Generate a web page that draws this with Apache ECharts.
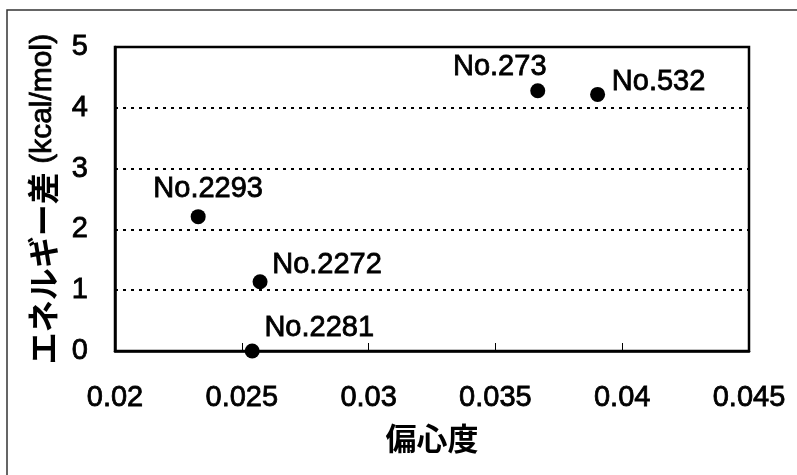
<!DOCTYPE html>
<html>
<head>
<meta charset="utf-8">
<title>偏心度とエネルギー差</title>
<script src="https://cdn.jsdelivr.net/npm/echarts@6/dist/echarts.min.js"></script>
<style>
  html, body { margin: 0; padding: 0; background: #fff; }
  #chart { width: 797px; height: 475px; }
</style>
</head>
<body>
<div id="chart"></div>
<script>
// data
const names = ['No.2293', 'No.2272', 'No.2281', 'No.273', 'No.532']
const eccentricity = [0.02328, 0.02572, 0.02541, 0.03667, 0.03903]
const energyDiff = [2.21, 1.14, 0.0, 4.28, 4.22]
const xTicks = [0.02, 0.025, 0.03, 0.035, 0.04, 0.045]
const yTicks = [0, 1, 2, 3, 4, 5]

// where each point label sits relative to its dot (centre offset, px)
const labelOffsets = {
  'No.2293': [10, -28],
  'No.2272': [67, -17],
  'No.2281': [67, -23],
  'No.273': [-38, -24],
  'No.532': [61, -12],
}

const latin = '"Liberation Sans", Arial, sans-serif'
const jp = '"Noto Sans CJK JP", "Liberation Sans", sans-serif'
// the scanned original has heavy strokes, thicken the regular face a bit
const heavy = { textBorderColor: '#000', textBorderWidth: 0.8 }

const chart = echarts.init(document.getElementById('chart'), null, { renderer: 'canvas' })

const points = names.map((n, i) => ({
  name: n,
  value: [eccentricity[i], energyDiff[i]],
  label: { offset: labelOffsets[n] },
}))

chart.setOption({
  animation: false,
  backgroundColor: '#fff',
  graphic: [
    { type: 'polyline', shape: { points: [[7, 475], [7, 10], [797, 10]] }, style: { stroke: '#333', lineWidth: 1.5, fill: null } },
  ],
  grid: {
    left: 115, top: 47, right: 48, bottom: 124,
    show: true, borderColor: '#000', borderWidth: 2.5,
  },
  xAxis: {
    type: 'value',
    min: xTicks[0],
    max: xTicks[xTicks.length - 1],
    interval: xTicks[1] - xTicks[0],
    name: '偏心度',
    nameLocation: 'middle',
    nameGap: 72,
    nameTextStyle: { fontFamily: jp, fontSize: 31, color: '#000', fontWeight: 'bold' },
    axisLine: { show: true, lineStyle: { color: '#000', width: 2.5 } },
    axisTick: { show: true, inside: true, length: 8, lineStyle: { color: '#000', width: 1 } },
    axisLabel: {
      margin: 32, fontFamily: latin, fontSize: 29, color: '#000', ...heavy,
      formatter: v => String(+v.toFixed(3)),
    },
    splitLine: { show: false },
  },
  yAxis: {
    type: 'value',
    min: yTicks[0],
    max: yTicks[yTicks.length - 1],
    interval: yTicks[1] - yTicks[0],
    name: '{jp|エネルギー差}{lat| (kcal/mol)}',
    nameLocation: 'middle',
    nameGap: 56,
    nameRotate: 90,
    nameTextStyle: {
      color: '#000',
      rich: {
        jp: { fontFamily: jp, fontSize: 32, fontWeight: 'bold', color: '#000' },
        lat: { fontFamily: latin, fontSize: 30, color: '#000', ...heavy },
      },
    },
    axisLine: { show: true, lineStyle: { color: '#000', width: 2.5 } },
    axisTick: { show: false },
    axisLabel: { margin: 27, fontFamily: latin, fontSize: 29, color: '#000', ...heavy },
    splitLine: { show: true, lineStyle: { color: '#000', width: 2, type: [3, 5] } },
  },
  series: [{
    type: 'scatter',
    symbol: 'circle',
    symbolSize: 15,
    itemStyle: { color: '#000', opacity: 1 },
    label: {
      show: true,
      position: 'inside',
      formatter: '{b}',
      fontFamily: latin,
      fontSize: 29,
      color: '#000',
      ...heavy,
    },
    data: points,
  }],
})
</script>
</body>
</html>
